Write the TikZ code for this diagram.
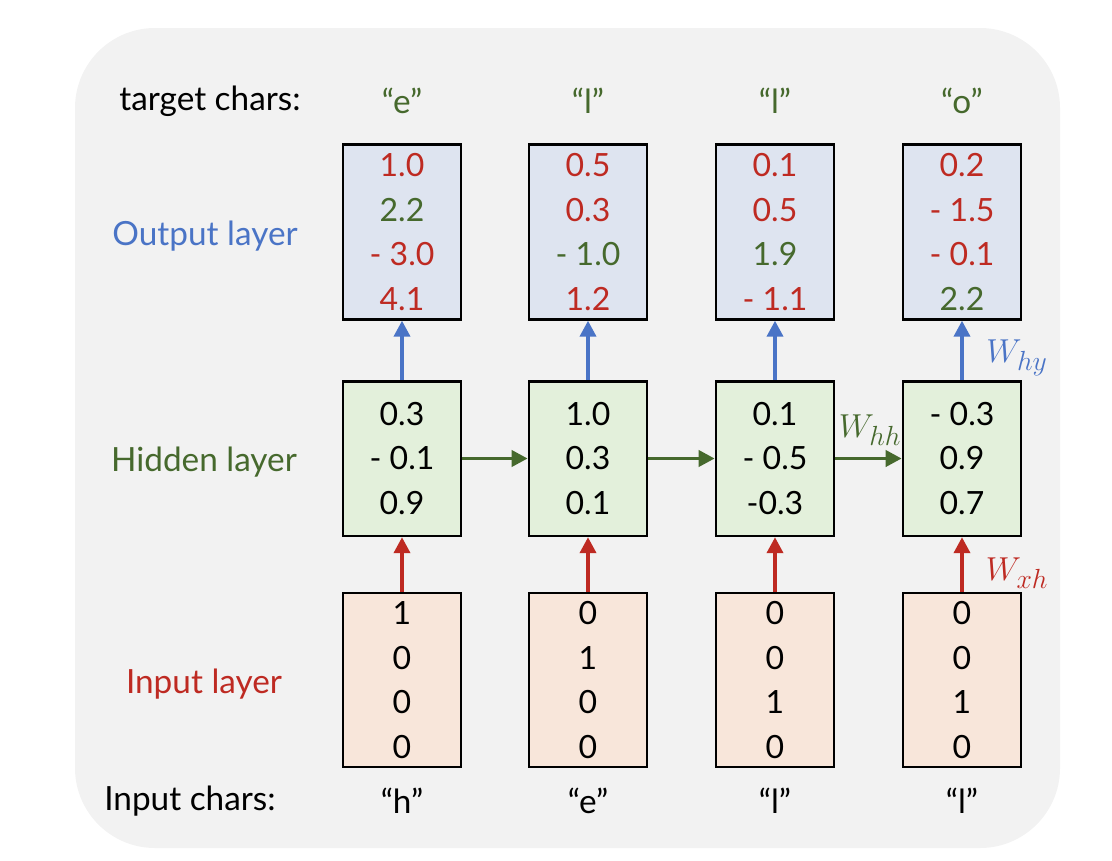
\documentclass[tikz,border=0pt]{standalone}
\usepackage{fontspec}
\setmainfont{Lato}
\usetikzlibrary{arrows.meta}
\definecolor{bgc}{HTML}{F2F2F2}
\definecolor{outf}{HTML}{DEE4F0}
\definecolor{hidf}{HTML}{E3F0DB}
\definecolor{inf}{HTML}{F8E6DA}
\definecolor{rd}{HTML}{BE2A22}
\definecolor{gn}{HTML}{46692D}
\definecolor{bl}{HTML}{4A74C6}
\newcommand{\R}[1]{\textcolor{rd}{#1}}
\newcommand{\G}[1]{\textcolor{gn}{#1}}
\begin{document}
\begin{tikzpicture}[x=0.75pt,y=-0.75pt,
  txt/.style={font=\fontsize{25}{29}\selectfont, inner sep=0pt},
  vbox/.style={draw=black, line width=2pt, minimum width=88.5pt, inner sep=0pt, align=center,
     font=\fontsize{24}{33.5}\selectfont},
  obox/.style={vbox, fill=outf, minimum height=131pt},
  hbox/.style={vbox, fill=hidf, minimum height=116pt},
  ibox/.style={vbox, fill=inf, minimum height=130.5pt},
  arr/.style={line width=2.8pt, -{Triangle[length=12pt,width=12pt]}},
  wlab/.style={font=\fontsize{30}{34}\selectfont, inner sep=0pt}
]
\useasboundingbox (0,0) rectangle (1112,860);
\fill[bgc, rounded corners=60pt] (75,28) rectangle (1060,848);

% labels
\node[txt] (tc) at (210,101) {target chars:};
\node[txt, text=bl] (ol) at (205,236) {Output layer};
\node[txt, text=gn] (hl) at (204,462) {Hidden layer};
\node[txt, text=rd] (il) at (204,684) {Input layer};
\node[txt] (ic) at (190,801) {Input chars:};

% target chars
\node[txt, text=gn] (t1) at (402,101) {“e”};
\node[txt, text=gn] (t2) at (588,101) {“l”};
\node[txt, text=gn] (t3) at (775,101) {“l”};
\node[txt, text=gn] (t4) at (962,101) {“o”};

% output boxes
\node[obox] (o1) at (402,232) {\R{1.0}\\\G{2.2}\\\R{- 3.0}\\\R{4.1}};
\node[obox] (o2) at (588,232) {\R{0.5}\\\R{0.3}\\\G{- 1.0}\\\R{1.2}};
\node[obox] (o3) at (775,232) {\R{0.1}\\\R{0.5}\\\G{1.9}\\\R{- 1.1}};
\node[obox] (o4) at (962,232) {\R{0.2}\\\R{- 1.5}\\\R{- 0.1}\\\G{2.2}};

% hidden boxes
\node[hbox] (h1) at (402,458.5) {0.3\\- 0.1\\0.9};
\node[hbox] (h2) at (588,458.5) {1.0\\0.3\\0.1};
\node[hbox] (h3) at (775,458.5) {0.1\\- 0.5\\-0.3};
\node[hbox] (h4) at (962,458.5) {- 0.3\\0.9\\0.7};

% input boxes
\node[ibox] (i1) at (402,680) {1\\0\\0\\0};
\node[ibox] (i2) at (588,680) {0\\1\\0\\0};
\node[ibox] (i3) at (775,680) {0\\0\\1\\0};
\node[ibox] (i4) at (962,680) {0\\0\\1\\0};

% input chars
\node[txt] (c1) at (402,801) {“h”};
\node[txt] (c2) at (588,801) {“e”};
\node[txt] (c3) at (775,801) {“l”};
\node[txt] (c4) at (962,801) {“l”};

% arrows
\foreach \k in {1,2,3,4}{
  \draw[arr, bl] (h\k.north) -- (o\k.south);
  \draw[arr, rd] (i\k.north) -- (h\k.south);
}
\draw[arr, gn] (h1.east) -- (h2.west);
\draw[arr, gn] (h2.east) -- (h3.west);
\draw[arr, gn] (h3.east) -- (h4.west);

% weight labels
\node[wlab, text=bl] (why) at (1017,358) {$W_{hy}$};
\node[wlab, text=gn] (whh) at (870,430) {$W_{hh}$};
\node[wlab, text=rd] (wxh) at (1017,573) {$W_{xh}$};
\end{tikzpicture}
\end{document}
